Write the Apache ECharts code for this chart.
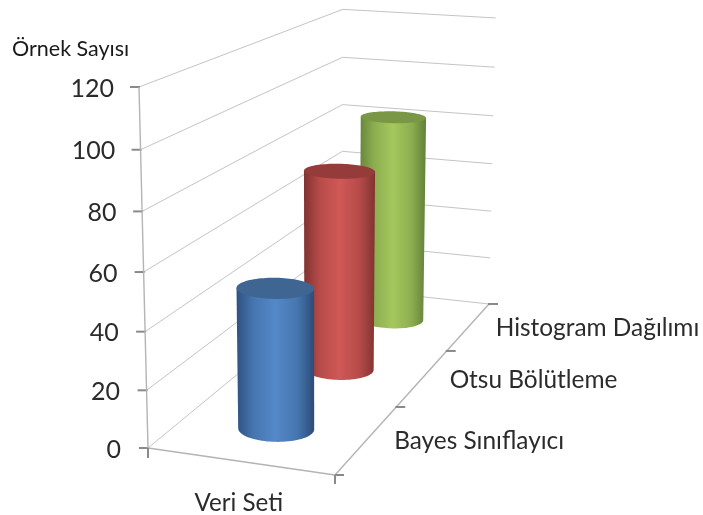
<!DOCTYPE html>
<html><head><meta charset="utf-8">
<style>html,body{margin:0;padding:0;background:#fff}#c{width:703px;height:515px}</style>
<script src="https://cdn.jsdelivr.net/npm/echarts@6/dist/echarts.min.js"></script>
</head><body><div id="c"></div>
<script>
const categories = ['Bayes Sınıflayıcı', 'Otsu Bölütleme', 'Histogram Dağılımı'];
const sampleCounts = [49, 75, 83];
const yTicks = [0, 20, 40, 60, 80, 100, 120];
const xName = 'Veri Seti';
const yName = 'Örnek Sayısı';
const sideColors = [
  ['#2f5180', '#4676b0', '#5488c8', '#4676b0', '#2d4c78'],
  ['#813331', '#b64b49', '#d05856', '#b64b49', '#813331'],
  ['#68853c', '#8dae50', '#a4c85e', '#8dae50', '#628039']
];
const capColors = ['#3f6592', '#953c3a', '#7a9745'];

// Projection of the 3D box (x across, z depth, v height, each 0..1) to the page
const O = [148, 448], A = [335, 475], B = [342, 288], C = [489, 304], V = [139, 87];
const sol = (() => {
  const a = A[0]-C[0], b = B[0]-C[0], c = O[0]-C[0], d = A[1]-C[1], e = B[1]-C[1], f = O[1]-C[1];
  const det = a*e - b*d;
  return [(c*e - b*f)/det, (a*f - c*d)/det];
})();
const al = sol[0], be = sol[1], ga = 0.951;
function proj(x, z, v) {
  const w = 1 + x*(al-1) + z*(be-1) + v*(ga-1);
  return [0, 1].map(i => (O[i] + x*(al*A[i]-O[i]) + z*(be*B[i]-O[i]) + v*(ga*V[i]-O[i])) / w);
}
const lineGrid = {stroke: '#c4c4c4', lineWidth: 1};
const lineAxis = {stroke: '#b4b4b4', lineWidth: 1.4};
const lineTick = {stroke: '#8a8a8a', lineWidth: 2};
const font = s => s + 'px Lato, Carlito, sans-serif';
const seg = (p, q, style) => ({type: 'line', shape: {x1: p[0], y1: p[1], x2: q[0], y2: q[1]}, style});
const vNorm = (api, sys, val) => (sys.y + sys.height - api.coord([0, val])[1]) / sys.height;

function renderWall(params, api) {
  const val = api.value(1), sys = params.coordSys, v = vNorm(api, sys, val);
  const p0 = proj(0, 0, v), p1 = proj(0, 1, v), p2 = proj(1, 1, v);
  const ch = [
    {type: 'polyline', shape: {points: [p0, p1, p2]}, style: {fill: null, ...lineGrid}},
    seg([p0[0]-9, p0[1]], [p0[0]+1, p0[1]], lineTick),
    {type: 'text', style: {text: String(val), x: p0[0]-27 + 2*v, y: p0[1]+1.5, align: 'right', verticalAlign: 'middle', font: font(25), fill: '#2b2b2b'}}
  ];
  return {type: 'group', children: ch};
}
function renderFloor(params, api) {
  const sys = params.coordSys, ch = [];
  ch.push(seg(proj(0,0,0), proj(0,0,1), lineAxis));
  ch.push(seg(proj(0,0,0), proj(1,0,0), lineAxis));
  ch.push(seg(proj(1,0,0), proj(1,1,0), lineAxis));
  const o = proj(0,0,0), a = proj(1,0,0);
  ch.push(seg([o[0], o[1]], [o[0], o[1]+10], lineTick));
  ch.push(seg([a[0], a[1]], [a[0], a[1]+9], lineTick));
  categories.forEach((c, i) => {
    const z = (api.coord([i, 0])[0] - sys.x) / sys.width;
    const p = proj(1, z + 1/6, 0), q = proj(1, z, 0);
    ch.push(seg([p[0]-1, p[1]], [p[0]+9, p[1]], lineTick));
    ch.push({type: 'text', style: {text: c, x: q[0]+27, y: q[1]+2, align: 'left', verticalAlign: 'middle', font: font(24.4), fill: '#2b2b2b'}});
  });
  const a0 = proj(1, 0, 0);
  ch.push(seg([a0[0], a0[1]], [a0[0]+9, a0[1]], lineTick));
  const mid = proj(0.5, 0, 0);
  ch.push({type: 'text', style: {text: xName, x: mid[0]-1, y: mid[1]+42, align: 'center', verticalAlign: 'middle', font: font(24.2), fill: '#2b2b2b'}});
  ch.push({type: 'text', style: {text: yName, x: 12, y: 49, align: 'left', verticalAlign: 'middle', font: font(21.5), fill: '#1a1a1a'}});
  return {type: 'group', children: ch};
}
function renderCylinder(params, api) {
  const cat = api.value(0), val = api.value(1), sys = params.coordSys;
  const z = (api.coord([cat, 0])[0] - sys.x) / sys.width, v = vNorm(api, sys, val);
  const ra = 0.2, rb = 0.062, N = 90;
  const ring = h => { const r = []; for (let k = 0; k < N; k++) { const t = 2*Math.PI*k/N; r.push(proj(0.5 + ra*Math.cos(t), z + rb*Math.sin(t), h)); } return r; };
  const top = ring(v), bot = ring(-0.005);
  const ext = (r, s) => r.reduce((b, p, i) => (s*p[0] > s*r[b][0] ? i : b), 0);
  const iL = ext(bot, -1), iR = ext(bot, 1);
  const side = [top[ext(top, -1)]];
  for (let i = iL; i !== iR; i = (i+1) % N) side.push(bot[i]);
  side.push(bot[iR], top[ext(top, 1)]);
  const cols = sideColors[cat];
  const grad = new echarts.graphic.LinearGradient(0, 0, 1, 0, cols.map((c, i) => ({offset: [0, .22, .5, .78, 1][i], color: c})));
  return {type: 'group', children: [
    {type: 'polygon', shape: {points: side}, style: {fill: grad}},
    {type: 'polygon', shape: {points: top}, style: {fill: capColors[cat]}}
  ]};
}
const axisOff = {show: false};
const cylSeries = categories.map((c, i) => ({
  type: 'custom', name: c, coordinateSystem: 'cartesian2d', clip: false, silent: true,
  z: 10 + categories.length - i, renderItem: renderCylinder, encode: {x: 0, y: 1},
  data: [[i, sampleCounts[i]]]
}));
const chart = echarts.init(document.getElementById('c'), null, {renderer: 'canvas'});
chart.setOption({
  animation: false,
  backgroundColor: '#ffffff',
  grid: {left: 148, right: 300, top: 88, bottom: 67},
  xAxis: {type: 'category', data: categories, ...axisOff},
  yAxis: {type: 'value', min: 0, max: 120, interval: 20, ...axisOff},
  series: [
    {type: 'custom', coordinateSystem: 'cartesian2d', clip: false, silent: true, z: 2, renderItem: renderWall, encode: {x: 0, y: 1},
     data: yTicks.map(t => [0, t])},
    {type: 'custom', coordinateSystem: 'cartesian2d', clip: false, silent: true, z: 3, renderItem: renderFloor, encode: {x: 0, y: 1},
     data: [[0, 0]]},
    ...cylSeries
  ]
});
</script></body></html>
